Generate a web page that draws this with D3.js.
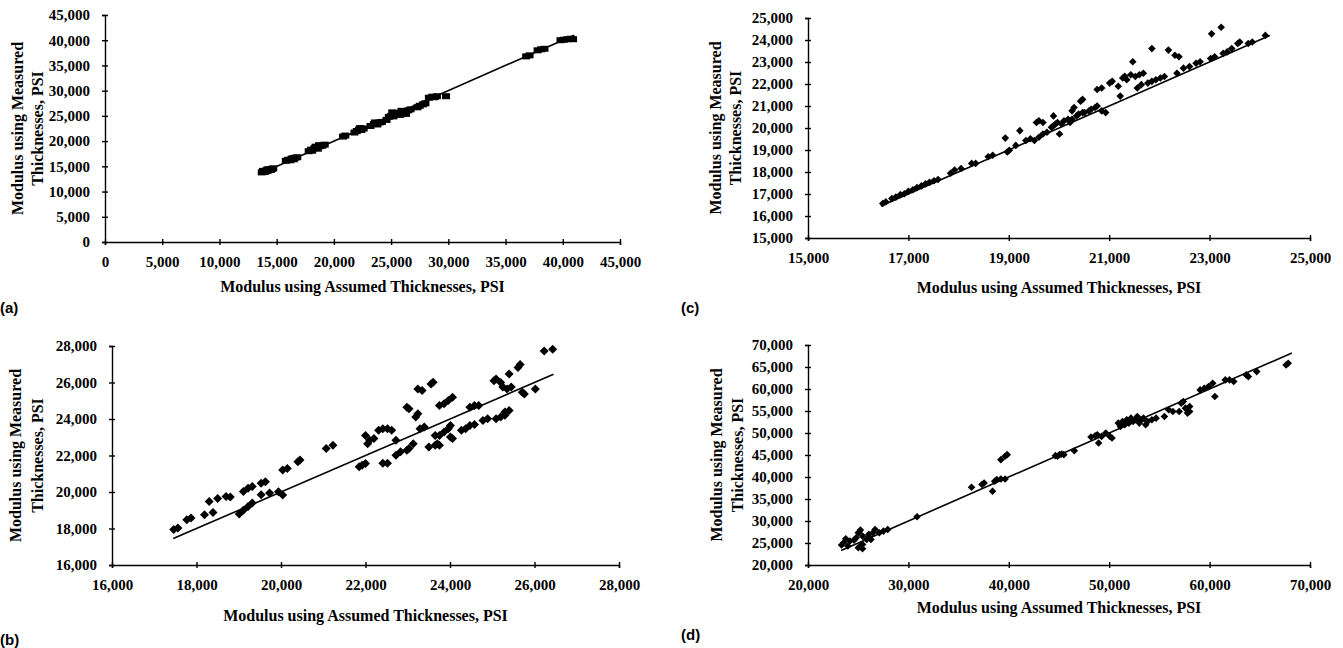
<!DOCTYPE html>
<html>
<head>
<meta charset="utf-8">
<script src="https://cdn.jsdelivr.net/npm/d3@7"></script>
<style>
  body { margin: 0; background: #fff; }
  svg text { font-family: "Liberation Serif", "Times New Roman", serif; font-weight: bold; fill: #000; }
  text.tag { font-family: "Liberation Sans", Arial, sans-serif; }
</style>
</head>
<body>
<svg id="fig" width="1343" height="648"></svg>
<script>
// ---- data ----
// (a) squares
var aPoints = [
  [13700,13800],[13900,14000],[14000,13900],[14100,14200],[14200,14100],[14300,14300],
  [14400,14400],[14500,14300],[14600,14500],[14700,14600],[13800,14100],[14200,14400],
  [15800,16100],[16000,16300],[16200,16200],[16300,16500],[16500,16400],[16600,16700],
  [16800,16800],[16400,16600],
  [17800,18000],[18000,18300],[18100,18100],[18300,18600],[18500,18700],[18600,18500],
  [18800,19000],[19000,19100],[19200,19300],[18400,18900],[18700,19200],
  [20800,20900],[21000,21100],
  [21800,21700],[22000,22000],[22200,22300],[22400,22200],[22600,22500],[22300,22600],
  [23200,23000],[23500,23400],[23800,23300],[24000,23700],[24200,23800],[23600,23700],
  [24600,24200],[24800,24800],[25000,25000],[25200,24900],[25400,25300],[25600,25600],
  [25800,25200],[26000,25500],[26200,25900],[26500,26100],[26700,26300],[25100,25700],
  [25900,26000],[26300,25400],
  [27300,26700],[27500,27000],[27800,27300],[28000,27500],
  [28300,28600],[28600,28800],[29000,28900],[28800,28700],[29800,28900],
  [36800,36800],[37100,37000],[37800,38000],[38100,38200],[38400,38300],
  [39800,40000],[40100,40100],[40400,40200],[40700,40300],[40900,40200]
];
var aLine = [13600, 41000];
var aXTicks = [0,5000,10000,15000,20000,25000,30000,35000,40000,45000];
var aYTicks = [0,5000,10000,15000,20000,25000,30000,35000,40000,45000];

// (b) diamonds
var bPoints = [
  [17460,17940],[17560,18030],[17770,18480],[17870,18580],[18190,18750],[18390,18880],
  [18300,19480],[18500,19650],[18700,19750],[18800,19720],
  [19110,20030],[19220,20200],[19320,20300],[19010,18800],[19110,19000],[19220,19200],
  [19320,19400],[19530,20480],[19630,20560],[19530,19850],[19730,19940],[19940,20020],
  [20040,19840],[20040,21200],[20150,21290],[20400,21660],[20450,21750],
  [21070,22380],[21230,22560],
  [22000,23100],[22050,22650],[22100,22830],[22200,22930],[22310,23380],[22410,23470],
  [22520,23470],[22620,23380],[21850,21380],[21920,21470],[22000,21560],[22410,21570],
  [22520,21570],[22720,22830],[22720,22020],[22830,22200],[22980,22290],[23030,22380],
  [22980,24650],[23030,24560],[23130,22650],[23190,24110],[23240,24290],[23290,23470],
  [23390,23560],[23240,25650],[23340,25560],[23550,25920],[23600,26010],[23500,22470],
  [23650,22560],[23700,22650],[23750,22560],[23750,24740],[23860,24830],[23960,25010],
  [24060,25190],[23860,23290],[23960,23470],[24010,23650],[23650,23100],[23750,23100],
  [24010,23010],[24060,22930],[24270,23380],[24370,23470],[24470,23650],[24580,23700],
  [24470,24650],[24580,24740],[24680,24740],[24780,23920],[24890,24010],
  [25040,26100],[25090,26190],[25200,26000],[25090,24010],[25200,24110],[25300,24200],
  [25250,25750],[25350,25650],[25300,24380],[25400,24470],[25400,26460],[25450,25750],
  [25610,26820],[25660,26980],[25710,25460],[25760,25370],[26020,25650],
  [26230,27730],[26430,27820]
];
var bLine = [17450, 26450];
var bXTicks = [16000,18000,20000,22000,24000,26000,28000];
var bYTicks = [16000,18000,20000,22000,24000,26000,28000];

// (c) diamonds
var cPoints = [
  [16490,16570],[16550,16640],[16670,16790],[16750,16860],[16840,16970],[16920,17010],
  [17000,17120],[17090,17190],[17170,17290],[17260,17370],[17340,17460],[17420,17530],
  [17510,17600],[17590,17660],[17840,17940],[17920,18090],[18050,18160],[18260,18390],
  [18340,18390],[18590,18690],[18680,18760],[18930,19540],[18970,18910],[19010,18990],
  [19140,19210],[19220,19880],[19340,19430],[19430,19510],[19510,19430],
  [19550,20250],[19600,20330],[19680,20250],[19600,19580],[19680,19730],[19760,19810],
  [19890,20100],[19850,20030],[19930,20180],[19970,20250],[19890,20550],[20010,19730],
  [20050,20180],[20100,20330],[20180,20400],[20220,20250],[20260,20400],
  [20350,20550],[20390,20630],[20470,20700],[20260,20780],[20300,20930],
  [20430,21220],[20470,21300],[20510,20700],[20600,20780],[20640,20850],
  [20720,20930],[20760,21000],[20850,20780],[20930,20700],[20760,21750],[20850,21820],
  [21010,22040],[21060,22120],[21180,21900],[21270,22270],[21220,21450],
  [21310,22350],[21350,22190],[21430,22420],[21470,23010],[21520,22340],[21600,22420],
  [21680,22490],[21560,21820],[21640,21970],[21770,22040],[21850,22120],[21930,22190],
  [21850,23610],[22020,22270],[22100,22340],[22180,23540],[22310,23310],[22390,23240],
  [22350,22490],[22480,22720],[22600,22790],[22730,22940],[22810,23010],
  [23020,23160],[23100,23240],[23040,24280],[23230,24580],[23270,23390],[23350,23460],
  [23440,23610],[23560,23840],[23600,23910],[23770,23840],[23850,23910],[24110,24210]
];
var cLine = [16450, 24200];
var cXTicks = [15000,17000,19000,21000,23000,25000];
var cYTicks = [15000,16000,17000,18000,19000,20000,21000,22000,23000,24000,25000];

// (d) diamonds
var dPoints = [
  [23340,24530],[23550,25060],[23760,25970],[23970,24310],[24180,25440],[24590,25660],
  [24800,26190],[25010,27330],[25220,27930],[25430,26570],[25430,24680],[25850,25820],
  [26060,26950],[26270,25820],[26470,27330],[26680,28080],[27100,27330],[27520,27700],
  [27940,28080],[25010,23930],[25220,24310],[25430,23700],
  [30860,30950],[36290,37670],[37330,38280],[37540,38650],[38380,36770],
  [38590,39030],[38800,39410],[39210,39560],[39630,39560],
  [39210,43940],[39630,44700],[39840,45080],
  [44640,44850],[45060,45080],[45270,45230],[45480,45080],[44850,44700],[46520,45980],
  [48190,49080],[48610,49380],[48820,49610],[49240,49230],[48950,47720],
  [49660,49990],[50070,49230],[50280,48850],
  [50910,52250],[51120,51500],[51330,52630],[51540,51870],[51750,53010],[51960,52250],
  [52170,53380],[52380,52630],[52590,53010],[52800,53760],[53000,52250],[53210,53010],
  [53420,53380],[53630,51870],[53830,52630],[54250,53010],[54670,53380],[55500,53760],
  [55920,55270],[56340,54890],[57170,56780],[57380,57160],[56970,54890],[57590,55650],
  [58010,56030],[57800,54520],[58010,54890],
  [59060,59800],[59470,60180],[59890,60560],[60310,61310],[60520,58300],
  [61560,62070],[61980,62070],[62400,61690],[63650,63200],[63860,62820],[64690,63960],
  [67620,65470],[67830,65850]
];
var dLine = [23300, 68200];
var dXTicks = [20000,30000,40000,50000,60000,70000];
var dYTicks = [20000,25000,30000,35000,40000,45000,50000,55000,60000,65000,70000];

var xTitle = "Modulus using Assumed Thicknesses, PSI";
var yTitle = ["Modulus using Measured", "Thicknesses, PSI"];

// layout of each scanned panel on the page
var panels = [
  {tag: "(a)", pts: aPoints, line: aLine, xt: aXTicks, yt: aYTicks, mark: "square",
   left: 105, right: 620, top: 15, bottom: 242, titleY: 286, yTitleX: [17, 37], tagX: 0, tagY: 308},
  {tag: "(b)", pts: bPoints, line: bLine, xt: bXTicks, yt: bYTicks, mark: "diamond", r: 4.5,
   left: 112, right: 619, top: 346, bottom: 565, titleY: 615, yTitleX: [15, 37], tagX: 0, tagY: 640},
  {tag: "(c)", pts: cPoints, line: cLine, xt: cXTicks, yt: cYTicks, mark: "diamond", r: 3.8,
   left: 808, right: 1310, top: 18, bottom: 238, titleY: 287, yTitleX: [715, 735], tagX: 681, tagY: 308},
  {tag: "(d)", pts: dPoints, line: dLine, xt: dXTicks, yt: dYTicks, mark: "diamond", r: 3.8,
   left: 808, right: 1310, top: 345, bottom: 565, titleY: 607, yTitleX: [716, 737], tagX: 681, tagY: 635}
];

var svg = d3.select("#fig");
var fmt = d3.format(",");

panels.forEach(function(p) {
    var x = d3.scaleLinear()
        .domain([p.xt[0], p.xt[p.xt.length - 1]])
        .range([p.left, p.right]);
    var y = d3.scaleLinear()
        .domain([p.yt[0], p.yt[p.yt.length - 1]])
        .range([p.bottom, p.top]);

    var g = svg.append("g");

    // x axis, ticks crossing the line
    var gx = g.append("g")
        .attr("transform", "translate(0," + p.bottom + ")")
        .call(d3.axisBottom(x).tickValues(p.xt).tickFormat(fmt).tickSizeOuter(0).tickSize(3));
    gx.selectAll(".tick line").attr("y1", -3).attr("y2", 3);
    gx.selectAll(".tick text").attr("y", 14).style("font-size", "15px");

    var gy = g.append("g")
        .attr("transform", "translate(" + p.left + ",0)")
        .call(d3.axisLeft(y).tickValues(p.yt).tickFormat(fmt).tickSizeOuter(0).tickSize(3));
    gy.selectAll(".tick line").attr("x1", -3).attr("x2", 3);
    gy.selectAll(".tick text").attr("x", -15).style("font-size", "15px");

    g.selectAll(".domain, .tick line").attr("stroke", "#000").attr("stroke-width", 1.4);
    g.selectAll(".tick text").attr("fill", "#000").attr("font-family", null);

    // equality line
    g.append("line")
        .attr("x1", x(p.line[0])).attr("y1", y(p.line[0]))
        .attr("x2", x(p.line[1])).attr("y2", y(p.line[1]))
        .attr("stroke", "#000")
        .attr("stroke-width", 1.6);

    // points
    if (p.mark === "square") {
        g.selectAll("rect.pt")
            .data(p.pts)
            .enter()
            .append("rect")
            .attr("class", "pt")
            .attr("x", function(d) { return x(d[0]) - 4; })
            .attr("y", function(d) { return y(d[1]) - 3; })
            .attr("width", 8)
            .attr("height", 6)
            .attr("fill", "#000");
    } else {
        g.selectAll("path.pt")
            .data(p.pts)
            .enter()
            .append("path")
            .attr("class", "pt")
            .attr("d", function(d) {
                var cx = x(d[0]), cy = y(d[1]), r = p.r;
                return "M" + cx + "," + (cy - r) + "L" + (cx + r) + "," + cy +
                       "L" + cx + "," + (cy + r) + "L" + (cx - r) + "," + cy + "Z";
            })
            .attr("fill", "#000");
    }

    // axis titles
    g.append("text")
        .attr("x", (p.left + p.right) / 2)
        .attr("y", p.titleY)
        .attr("dy", "0.35em")
        .attr("text-anchor", "middle")
        .style("font-size", "16px")
        .text(xTitle);

    yTitle.forEach(function(t, i) {
        g.append("text")
            .attr("text-anchor", "middle")
            .attr("dy", "0.35em")
            .attr("transform", "translate(" + p.yTitleX[i] + "," + (p.top + p.bottom) / 2 + ")rotate(-90)")
            .style("font-size", "16px")
            .text(t);
    });

    g.append("text")
        .attr("class", "tag")
        .attr("x", p.tagX)
        .attr("y", p.tagY)
        .attr("dy", "0.35em")
        .style("font-size", "15px")
        .text(p.tag);
});
</script>
</body>
</html>
